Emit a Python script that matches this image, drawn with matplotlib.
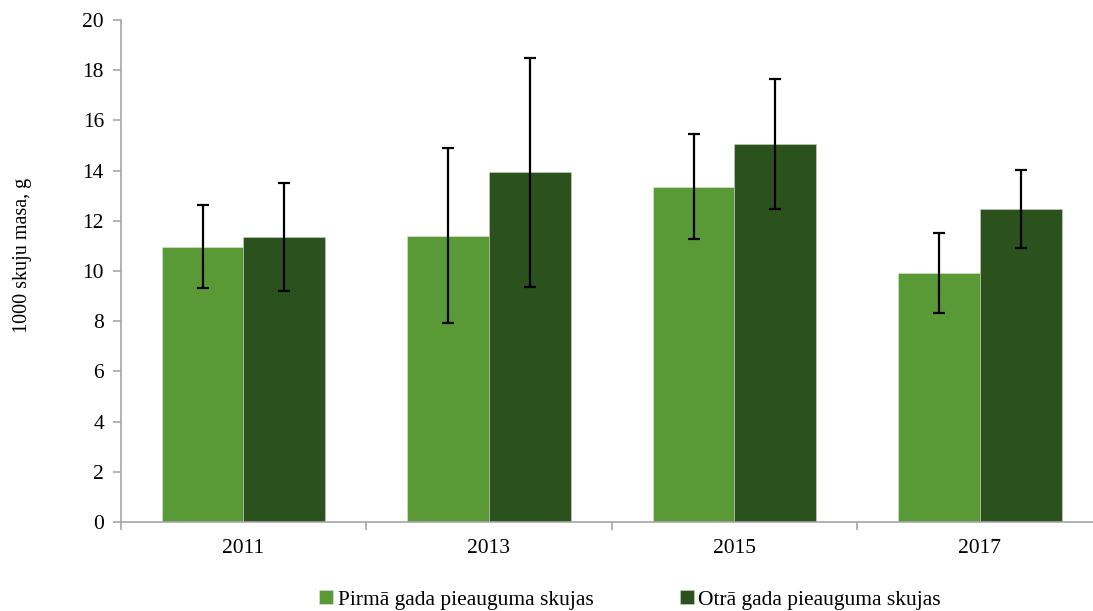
import numpy as np
import matplotlib
matplotlib.use("Agg")
from matplotlib import pyplot as plt
from matplotlib.ticker import FixedLocator, MultipleLocator

plt.rcParams["font.family"] = ["Liberation Serif", "DejaVu Serif"]

years = ["2011", "2013", "2015", "2017"]
first_year = [10.97, 11.41, 13.36, 9.91]
first_year_err = [1.65, 3.5, 2.1, 1.6]
second_year = [11.37, 13.93, 15.05, 12.47]
second_year_err = [2.15, 4.55, 2.6, 1.55]
labels = ["Pirmā gada pieauguma skujas", "Otrā gada pieauguma skujas"]

light_green = "#599A37"
dark_green = "#2B521D"
axis_grey = "#A6A6A6"

fig = plt.figure(figsize=(10.93, 6.11), dpi=100)
ax = fig.add_axes([0.1104, 0.1457, 0.8984, 0.8216])

x = np.arange(len(years))
w = 0.333
err_kw = dict(ecolor="black", elinewidth=1.6, capsize=4.5, capthick=1.6)
ax.bar(x - w / 2, first_year, w, yerr=first_year_err, color=light_green,
       edgecolor="#DDE8D6", linewidth=0.4, label=labels[0], error_kw=err_kw)
ax.bar(x + w / 2, second_year, w, yerr=second_year_err, color=dark_green,
       edgecolor="#C9D3C3", linewidth=0.4, label=labels[1], error_kw=err_kw)

ax.set_xlim(-0.5, len(years) - 0.5)
ax.set_ylim(0, 20)
ax.yaxis.set_major_locator(MultipleLocator(2))

# category labels centred, ticks on the boundaries
ax.set_xticks(x)
ax.set_xticklabels(years)
ax.tick_params(axis="x", which="major", length=0, pad=12, labelsize=15.5)
ax.xaxis.set_minor_locator(FixedLocator(np.arange(-0.5, len(years) + 0.5, 1)))
ax.tick_params(axis="x", which="minor", length=6, width=1.2, color=axis_grey)
ax.tick_params(axis="y", length=6, width=1.2, color=axis_grey, labelsize=15.5, pad=6)

for side in ("top", "right"):
    ax.spines[side].set_visible(False)
for side in ("left", "bottom"):
    ax.spines[side].set_color(axis_grey)
    ax.spines[side].set_linewidth(1.2)

ax.set_ylabel("1000 skuju masa, g", fontsize=14.5)
ax.yaxis.set_label_coords(-0.0905, 0.53)

handles, lbls = ax.get_legend_handles_labels()
fig.legend(handles, lbls, loc="center", bbox_to_anchor=(630 / 1093, 1 - 600 / 611),
           ncol=2, frameon=False, fontsize=15.5, handlelength=0.65, handleheight=0.65,
           handletextpad=0.2, columnspacing=4.0)

fig.savefig("out.png", dpi=100)
